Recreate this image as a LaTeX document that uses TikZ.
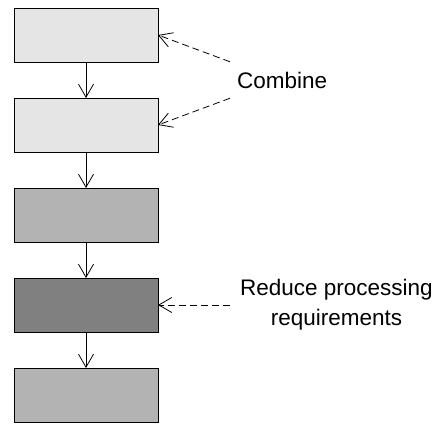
\documentclass[tikz,border=0pt]{standalone}
\usepackage{fontspec}
\setmainfont{Liberation Sans}
\usepackage{xcolor}
\usepackage{tikz}
\usetikzlibrary{arrows.meta,positioning,calc}

\definecolor{stagelight}{HTML}{E5E5E5}
\definecolor{stagemid}{HTML}{B3B3B3}
\definecolor{stagedark}{HTML}{808080}

\begin{document}
\begin{tikzpicture}[node distance=36pt, >={Straight Barb[length=13pt,width=15pt]},
  stage/.style={draw,line width=0.8pt,minimum width=144pt,minimum height=54pt,inner sep=0pt,outer sep=0pt},
  note/.style={font=\fontsize{22.5}{30}\selectfont,align=center,inner ysep=0pt},
  flow/.style={->,line width=0.8pt},
  hint/.style={->,line width=0.8pt,dash pattern=on 7pt off 4pt}]
\useasboundingbox (0,0) rectangle (445pt,-425pt);
\node[stage,fill=stagelight] (s1) at (86pt,-35pt) {};
\node[stage,fill=stagelight,below=of s1] (s2) {};
\node[stage,fill=stagemid,below=of s2] (s3) {};
\node[stage,fill=stagedark,below=of s3] (s4) {};
\node[stage,fill=stagemid,below=of s4] (s5) {};
\draw[flow] (s1) -- (s2);
\draw[flow] (s2) -- (s3);
\draw[flow] (s3) -- (s4);
\draw[flow] (s4) -- (s5);
% notes on the right
\node[note,inner xsep=7pt,minimum height=36pt,right=72pt of {$(s1.east)!0.5!(s2.east)$}] (comb) {Combine};
\node[note,inner xsep=10pt,right=72pt of s4] (red) {Reduce processing\\requirements};
\draw[hint] (comb.north west) -- (s1.east);
\draw[hint] (comb.south west) -- (s2.east);
\draw[hint] (red.west) -- (s4.east);
\end{tikzpicture}
\end{document}
